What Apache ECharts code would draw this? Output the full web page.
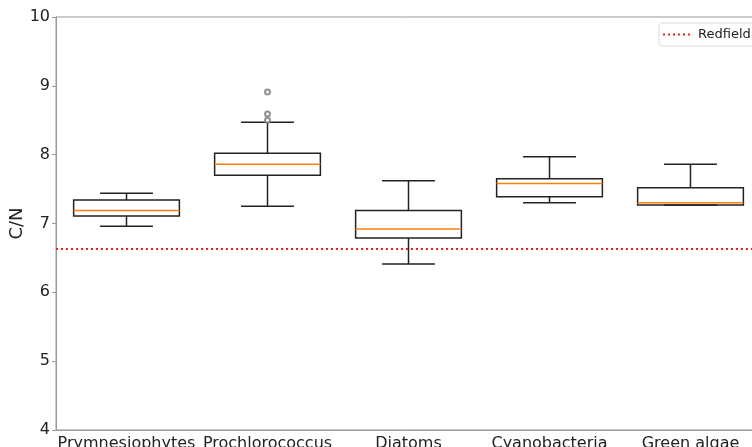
<!DOCTYPE html>
<html><head><meta charset="utf-8">
<script src="https://cdn.jsdelivr.net/npm/echarts@6/dist/echarts.min.js"></script>
<style>html,body{margin:0;padding:0;background:#fff}#c{width:752px;height:447px}</style>
</head><body><div id="c"></div>
<script>
const categories = ['Prymnesiophytes','Prochlorococcus','Diatoms','Cyanobacteria','Green algae'];
const whiskerLow  = [6.96, 7.25, 6.41, 7.30, 7.27];
const q1          = [7.11, 7.70, 6.79, 7.39, 7.27];
const median      = [7.19, 7.86, 6.92, 7.58, 7.30];
const q3          = [7.34, 8.02, 7.19, 7.65, 7.52];
const whiskerHigh = [7.44, 8.47, 7.62, 7.97, 7.86];
const outlierCategory = ['Prochlorococcus','Prochlorococcus','Prochlorococcus'];
const outlierValues   = [8.91, 8.59, 8.50];
const redfield = 6.625;
const yTicks = [4,5,6,7,8,9,10];

const boxData = categories.map((c,i)=>[i, whiskerLow[i], q1[i], median[i], q3[i], whiskerHigh[i]]);
const outlierData = outlierCategory.map((c,i)=>[categories.indexOf(c), outlierValues[i]]);

const chart = echarts.init(document.getElementById('c'));
const font = 'DejaVu Sans';
const dotted = 'path://M0,0h2v2h-2zM5,0h2v2h-2zM10,0h2v2h-2zM15,0h2v2h-2zM20,0h2v2h-2zM25,0h2v2h-2z';
chart.setOption({
  animation:false,
  grid:{left:56, top:17, bottom:17, right:-9, show:true, borderColor:'#999', borderWidth:1,
        containLabel:false, outerBoundsMode:'none'},
  legend:{
    left:659, top:23, padding:[5,6,5,4], itemWidth:27, itemHeight:2, itemGap:6,
    borderColor:'#ddd', borderWidth:1, borderRadius:3, backgroundColor:'#fff',
    textStyle:{fontFamily:font, fontSize:13, color:'#222', padding:[0,0,0,3]},
    data:[{name:'Redfield', icon:dotted, itemStyle:{color:'#e8221b'}}]
  },
  xAxis:{
    type:'category', data:categories, boundaryGap:true,
    axisLine:{lineStyle:{color:'#999'}},
    axisTick:{alignWithLabel:true, length:4, lineStyle:{color:'#999'}},
    axisLabel:{fontFamily:font, fontSize:16, color:'#222', margin:6, interval:0},
    splitLine:{show:false}
  },
  yAxis:{
    type:'value', min:yTicks[0], max:yTicks[yTicks.length-1], interval:1,
    name:'C/N', nameLocation:'middle', nameGap:30, nameRotate:90, nameMoveOverlap:false,
    nameTextStyle:{fontFamily:font, fontSize:18, color:'#222'},
    axisLine:{show:true, lineStyle:{color:'#999'}},
    axisTick:{show:true, length:4, lineStyle:{color:'#999'}},
    axisLabel:{fontFamily:font, fontSize:16, color:'#222', margin:6},
    splitLine:{show:false}
  },
  series:[
    {
      type:'custom', name:'box', data:boxData,
      encode:{x:0, y:[1,2,3,4,5]},
      renderItem:function(params, api){
        const x = api.value(0);
        const band = api.size([1,0])[0];
        const half = band*0.375, capHalf = band*0.1875;
        const cx = api.coord([x, api.value(1)])[0];
        const yLow = api.coord([x, api.value(1)])[1];
        const yQ1 = api.coord([x, api.value(2)])[1];
        const yMed = api.coord([x, api.value(3)])[1];
        const yQ3 = api.coord([x, api.value(4)])[1];
        const yHigh = api.coord([x, api.value(5)])[1];
        const st = {stroke:'#222', lineWidth:1.5, fill:null};
        return {type:'group', children:[
          {type:'line', shape:{x1:cx,y1:yQ3,x2:cx,y2:yHigh}, style:st},
          {type:'line', shape:{x1:cx,y1:yQ1,x2:cx,y2:yLow}, style:st},
          {type:'line', shape:{x1:cx-capHalf,y1:yHigh,x2:cx+capHalf,y2:yHigh}, style:st},
          {type:'line', shape:{x1:cx-capHalf,y1:yLow,x2:cx+capHalf,y2:yLow}, style:st},
          {type:'rect', shape:{x:cx-half,y:yQ3,width:2*half,height:yQ1-yQ3}, style:{stroke:'#222', lineWidth:1.5, fill:'rgba(0,0,0,0)'}},
          {type:'line', shape:{x1:cx-half,y1:yMed,x2:cx+half,y2:yMed}, style:{stroke:'#ff7f0e', lineWidth:1.5}}
        ]};
      },
      silent:true, z:3
    },
    {
      type:'scatter', name:'outliers', data:outlierData,
      symbol:'emptyCircle', symbolSize:5,
      itemStyle:{color:'#777', borderColor:'#777', borderWidth:1}, z:4, silent:true
    },
    {
      type:'line', name:'Redfield', data:[], symbol:'none',
      lineStyle:{color:'#e8221b', type:[2,3], width:2},
      itemStyle:{color:'#e8221b'},
      markLine:{silent:true, symbol:['none','none'], label:{show:false},
        lineStyle:{color:'#e8221b', type:[2,3], width:2},
        data:[{yAxis:redfield}]},
      z:2
    }
  ]
});
</script></body></html>
